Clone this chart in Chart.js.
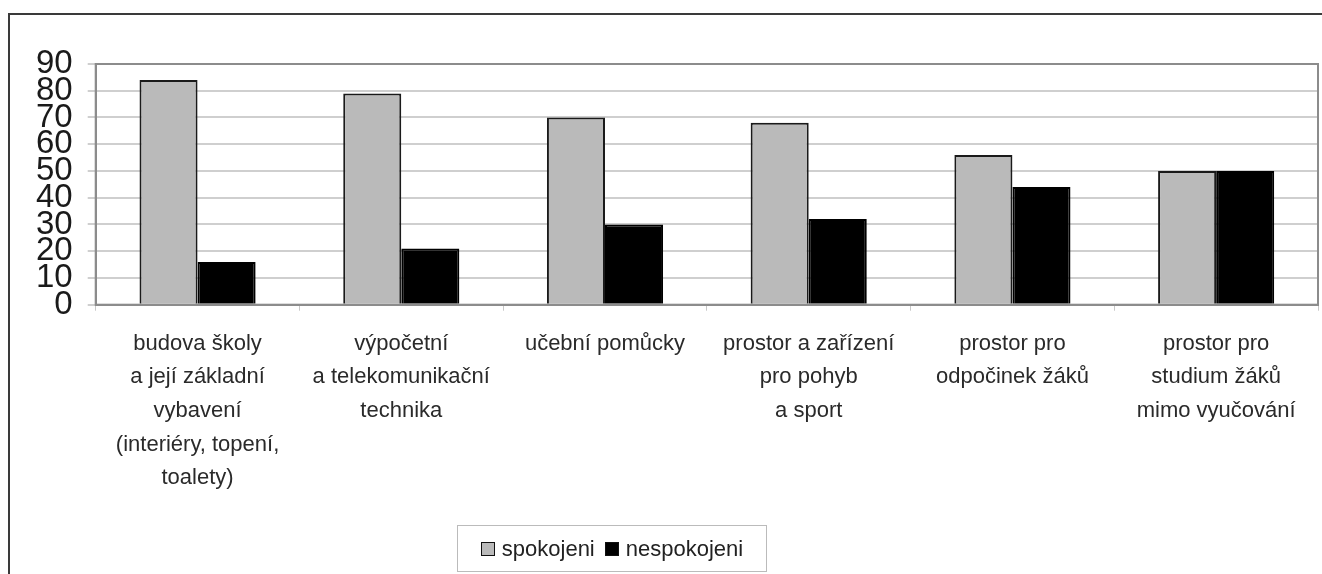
<!DOCTYPE html>
<html>
<head>
<meta charset="utf-8">
<script src="https://cdn.jsdelivr.net/npm/chart.js@4/dist/chart.umd.min.js"></script>
<style>
  html, body { margin: 0; padding: 0; background: #fff; overflow: hidden; }
  #wrap { position: relative; width: 1322px; height: 574px; }
  #frame {
    position: absolute; left: 8px; top: 13px; width: 1400px; height: 700px;
    border-left: 2px solid #3a3a3a; border-top: 2px solid #3a3a3a;
  }
  #chart { position: absolute; left: 0; top: 0; }
  #legend {
    position: absolute; left: 457px; top: 525px; width: 310px; height: 47px;
    border: 1px solid #bbb; box-sizing: border-box;
    font: 22px "Liberation Sans", Arial, sans-serif; color: #222;
    display: flex; align-items: center; justify-content: center; gap: 10px;
  }
  #legend span { display: inline-flex; align-items: center; }
  #legend i {
    display: inline-block; width: 12px; height: 12px; margin-right: 7px;
    border: 1.5px solid #111;
  }
</style>
</head>
<body>
<div id="wrap">
  <div id="frame"></div>
  <canvas id="chart" width="1322" height="574"></canvas>
  <div id="legend"></div>
</div>
<script>
const categories = [
  ['budova školy', 'a její základní', 'vybavení', '(interiéry, topení,', 'toalety)'],
  ['výpočetní', 'a telekomunikační', 'technika'],
  ['učební pomůcky'],
  ['prostor a zařízení', 'pro pohyb', 'a sport'],
  ['prostor pro', 'odpočinek žáků'],
  ['prostor pro', 'studium žáků', 'mimo vyučování']
];
const spokojeni = [84, 79, 70, 68, 56, 50];
const nespokojeni = [16, 21, 30, 32, 44, 50];
const seriesNames = ['spokojeni', 'nespokojeni'];
const seriesColors = ['#bababa', '#000000'];

// grey border round the plot area, like the old office charts
const plotBorder = {
  id: 'plotBorder',
  afterDraw(chart) {
    const { ctx, chartArea: a } = chart;
    ctx.save();
    ctx.strokeStyle = '#8c8c8c';
    ctx.lineWidth = 2;
    ctx.strokeRect(a.left, a.top, a.right - a.left, a.bottom - a.top);
    ctx.restore();
  }
};

const chart = new Chart(document.getElementById('chart'), {
  type: 'bar',
  data: {
    labels: categories,
    datasets: [
      { label: seriesNames[0], data: spokojeni, backgroundColor: seriesColors[0], borderColor: '#1a1a1a', borderWidth: 2 },
      { label: seriesNames[1], data: nespokojeni, backgroundColor: seriesColors[1], borderColor: '#000', borderWidth: 2 }
    ]
  },
  options: {
    responsive: false,
    animation: false,
    layout: { padding: { left: 21, top: 64, right: 4, bottom: 63 } },
    datasets: { bar: { categoryPercentage: 0.57, barPercentage: 1 } },
    plugins: { legend: { display: false }, tooltip: { enabled: false } },
    scales: {
      x: {
        grid: { offset: true, drawOnChartArea: false, color: '#c8c8c8', tickLength: 6 },
        border: { color: '#8c8c8c', width: 2 },
        ticks: {
          autoSkip: false, maxRotation: 0, padding: 16, color: '#2a2a2a',
          font: { family: '"Liberation Sans", Arial, sans-serif', size: 22, lineHeight: 1.53 }
        }
      },
      y: {
        min: 0, max: 90,
        grid: { color: '#cfcfcf', lineWidth: 2, tickLength: 8 },
        border: { color: '#8c8c8c', width: 2 },
        ticks: {
          stepSize: 10, autoSkip: false, padding: 15, color: '#1a1a1a',
          font: { family: '"Liberation Sans", Arial, sans-serif', size: 33, lineHeight: 1 }
        }
      }
    }
  },
  plugins: [plotBorder]
});

// legend drawn as a boxed html strip under the chart
const legend = document.getElementById('legend');
seriesNames.forEach((name, i) => {
  const item = document.createElement('span');
  item.innerHTML = `<i style="background:${seriesColors[i]}"></i>${name}`;
  legend.appendChild(item);
});
</script>
</body>
</html>
